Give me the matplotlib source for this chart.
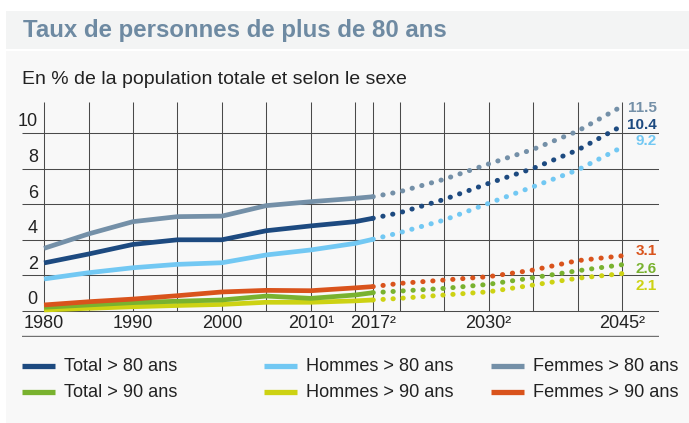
import matplotlib.pyplot as plt
from matplotlib.patches import Rectangle
from matplotlib.lines import Line2D

plt.rcParams['font.family'] = ['Liberation Sans', 'DejaVu Sans']

# observed values (solid lines)
years_hist = [1980, 1985, 1990, 1995, 2000, 2005, 2010, 2015, 2017]
total80_hist = [2.70, 3.20, 3.74, 4.00, 4.00, 4.51, 4.78, 5.02, 5.21]
hommes80_hist = [1.80, 2.15, 2.43, 2.62, 2.71, 3.15, 3.43, 3.80, 4.03]
femmes80_hist = [3.52, 4.33, 5.02, 5.30, 5.33, 5.92, 6.14, 6.33, 6.42]
total90_hist = [0.21, 0.34, 0.47, 0.55, 0.62, 0.84, 0.71, 0.90, 1.03]
hommes90_hist = [0.06, 0.15, 0.24, 0.31, 0.37, 0.49, 0.49, 0.57, 0.62]
femmes90_hist = [0.34, 0.52, 0.67, 0.86, 1.07, 1.16, 1.14, 1.30, 1.37]

# scenario values (dotted lines)
years_proj = [2017, 2020, 2025, 2030, 2035, 2040, 2045]
total80_proj = [5.21, 5.52, 6.27, 7.17, 8.01, 9.04, 10.4]
hommes80_proj = [4.03, 4.40, 5.11, 6.05, 6.98, 7.92, 9.2]
femmes80_proj = [6.42, 6.70, 7.40, 8.26, 9.08, 10.10, 11.5]
total90_proj = [1.03, 1.12, 1.27, 1.50, 1.87, 2.26, 2.6]
hommes90_proj = [0.62, 0.71, 0.90, 1.08, 1.46, 1.84, 2.1]
femmes90_proj = [1.37, 1.55, 1.74, 1.93, 2.30, 2.83, 3.1]

labels = ['Total > 80 ans', 'Hommes > 80 ans', 'Femmes > 80 ans',
          'Total > 90 ans', 'Hommes > 90 ans', 'Femmes > 90 ans']
colors = ['#1d4a80', '#72c8f3', '#7490a8', '#79b22f', '#cdd213', '#d9531c']

x_ticks = [1980, 1990, 2000, 2010, 2017, 2030, 2045]
x_ticklabels = ['1980', '1990', '2000', '2010\u00b9', '2017\u00b2', '2030\u00b2', '2045\u00b2']
x_grid = [1980, 1985, 1990, 1995, 2000, 2005, 2010, 2015, 2017, 2020, 2025,
          2030, 2035, 2040, 2045]
y_ticks = [0, 2, 4, 6, 8, 10]

# end-of-line value labels (text, y position of the label)
end_labels = [('11.5', 11.42, '#7490a8'), ('10.4', 10.45, '#1d4a80'), ('9.2', 9.55, '#72c8f3'),
              ('3.1', 3.37, '#d9531c'), ('2.6', 2.36, '#79b22f'), ('2.1', 1.40, '#cdd213')]

W, H = 689, 423
fig = plt.figure(figsize=(W / 100, H / 100), dpi=100)
fig.patch.set_facecolor('white')

# background panels
fig.patches.append(Rectangle((6 / W, 1 - 49.5 / H), 1, 38 / H, transform=fig.transFigure,
                             facecolor='#f3f4f4', edgecolor='none', zorder=-10))
fig.patches.append(Rectangle((6 / W, 0), 1, 1 - 51.5 / H, transform=fig.transFigure,
                             facecolor='#f8f8f8', edgecolor='none', zorder=-10))

fig.text(23 / W, 1 - 37 / H, 'Taux de personnes de plus de 80 ans', fontsize=17.3,
         fontweight='bold', color='#6e8aa2', va='baseline')
fig.text(22 / W, 1 - 84 / H, 'En % de la population totale et selon le sexe', fontsize=14,
         color='#222222', va='baseline')

x_left, x_right = 1977.52, 2049.16
y_bottom, y_top = -1.46, 11.74
ax = fig.add_axes([22 / W, 1 - 337 / H, (659 - 22) / W, (337 - 102) / H])
ax.set_xlim(x_left, x_right)
ax.set_ylim(y_bottom, y_top)
ax.patch.set_alpha(0)
for s in ax.spines.values():
    s.set_visible(False)
ax.set_xticks([])
ax.set_yticks([])

gc = '#4a4a4a'
ax.vlines(x_grid, 0, y_top, colors=gc, lw=0.75, zorder=1)
ax.hlines(y_ticks, x_left, x_right, colors=gc, lw=0.75, zorder=1)
ax.axhline(y_bottom + 0.03, color='#707070', lw=1.0, zorder=1)

for v in y_ticks:
    ax.text(1979.3, v + 0.62, str(v), ha='right', va='center', fontsize=13, color='#222222')
for x, lab in zip(x_ticks, x_ticklabels):
    ax.text(x, -0.72, lab, ha='center', va='center', fontsize=13, color='#222222')

hist = [total80_hist, hommes80_hist, femmes80_hist, total90_hist, hommes90_hist, femmes90_hist]
proj = [total80_proj, hommes80_proj, femmes80_proj, total90_proj, hommes90_proj, femmes90_proj]
order = [4, 3, 5, 1, 0, 2]
for z, i in enumerate(order):
    ax.plot(years_hist, hist[i], color=colors[i], lw=3.4, solid_capstyle='butt',
            solid_joinstyle='round', zorder=3 + z)
    ax.plot(years_proj, proj[i], color=colors[i], lw=3.6, linestyle=(0, (0.05, 1.95)),
            dash_capstyle='round', zorder=3 + z)

for txt, y, c in end_labels:
    ax.text(2048.9, y, txt, ha='right', va='center', fontsize=11, fontweight='bold', color=c)

# legend
col_x = [22, 264, 491]
row_y = [366, 392]
for k, lab in enumerate(labels):
    r, cidx = divmod(k, 3)
    x0 = col_x[cidx]
    y0 = 1 - row_y[r] / H
    fig.lines.append(Line2D([x0 / W, (x0 + 33) / W], [y0, y0], transform=fig.transFigure,
                            color=colors[k], lw=3.8, solid_capstyle='butt'))
    fig.text((x0 + 42) / W, y0, lab, fontsize=13.1, color='#222222', va='center')

fig.savefig('out.png', dpi=100)
